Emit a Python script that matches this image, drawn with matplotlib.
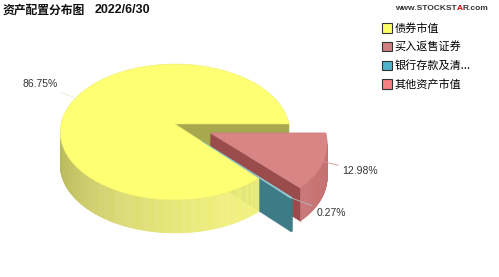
import numpy as np
import matplotlib.pyplot as plt
from matplotlib.collections import PolyCollection
from matplotlib.colors import to_rgb
from matplotlib.patches import Patch
from matplotlib.transforms import Transform

categories = ['债券市值', '买入返售证券', '银行存款及清...', '其他资产市值']
values = [86.75, 12.98, 0.27, 0.00]
explode = [0.0, 0.33, 0.33, 0.33]
top_colors = ['#FFFF73', '#D98585', '#92D4DE', '#F08080']
side_colors = ['#F6F67E', '#CC7676', '#3F7F88', '#E07070']
wall_colors = ['#A8A84E', '#9A4C4C', '#3D7C86', '#C06060']
legend_colors = ['#FFFF66', '#D08080', '#4FB3C9', '#F88080']
title = '资产配置分布图'
date_text = '2022/6/30'

W, H = 499, 277
cx, cy = 175, 124          # pie apex in pixels
sx, sy = 114, 67           # pixel size of one radius
tilt_b = 0.118             # perspective: front of pie looks bigger
depth = 33 / sy
cjk = ['Noto Sans CJK SC', 'DejaVu Sans']


class Tilt(Transform):
    input_dims = output_dims = 2

    def transform_non_affine(self, v):
        v = np.asarray(v, float)
        w = 1 + tilt_b * v[:, 1]
        return np.column_stack([v[:, 0] / w, v[:, 1] / w])


tilt = Tilt()

fig = plt.figure(figsize=(W / 100, H / 100), dpi=100)
ax = fig.add_axes([0, 0, 1, 1])

shown = [i for i, v in enumerate(values) if v > 0]
wedges, _ = ax.pie([values[i] for i in shown],
                   explode=[explode[i] for i in shown],
                   colors=[top_colors[i] for i in shown],
                   startangle=values[0] * 3.6, counterclock=False,
                   wedgeprops=dict(linewidth=0.4, zorder=4))
ax.set_aspect('auto')
ax.set_xlim(-cx / sx, (W - cx) / sx)
ax.set_ylim((cy - H) / sy, cy / sy)
ax.axis('off')


def proj(c, a, r=1.0):
    a = np.radians(a)
    return tilt.transform(np.array([[c[0] + r * np.cos(a), c[1] + r * np.sin(a)]]))[0]


def down(p):
    return (p[0], p[1] - depth)


def shade(col, f):
    return tuple(min(1, x * f) for x in to_rgb(col))


# side walls of the 3d pie
for n, (i, w) in enumerate(zip(shown, wedges)):
    w.set_transform(tilt + ax.transData)
    w.set_edgecolor(shade(top_colors[i], 0.93))
    c, r, t1, t2 = w.center, w.r, w.theta1, w.theta2
    pc = proj(c, 0, 0)
    walls = []
    for t, sgn in ((t1, 1), (t2, -1)):
        pr = proj(c, t, r)
        if sgn * (pr[0] - pc[0]) > 0:
            walls.append([pc, pr, down(pr), down(pc)])
    quads, cols = [], []
    angs = np.linspace(t1, t2, max(2, int((t2 - t1) / 0.5) + 1))
    for a0, a1 in zip(angs[:-1], angs[1:]):
        p0, p1 = proj(c, a0, r), proj(c, a1, r)
        if p1[0] > p0[0]:
            m = (a0 + a1) / 2
            quads.append([p0, p1, down(p1), down(p0)])
            cols.append(shade(side_colors[i], 0.83 + 0.15 * np.cos(np.radians(m - 315))))
    if explode[i] > 0:
        zw = za = 2 + 0.1 * n
    else:
        zw, za = 1, 3
    if walls:
        ax.add_collection(PolyCollection(walls, facecolors=wall_colors[i],
                                         edgecolors=wall_colors[i], linewidths=0.3, zorder=zw))
    if quads:
        ax.add_collection(PolyCollection(quads, facecolors=cols, edgecolors=cols,
                                         linewidths=0.3, zorder=za))

# percentage labels
label_offsets = [(-18, 14), (19, -9), (25, -15)]
leader_colors = ['#EEEED0', '#D89090', '#B8B8B8']
for n, (i, w) in enumerate(zip(shown, wedges)):
    m = (w.theta1 + w.theta2) / 2
    dx, dy = label_offsets[n]
    ax.annotate(f'{values[i]:.2f}%', xy=proj(w.center, m, w.r), xytext=(dx, dy),
                textcoords='offset pixels', ha='right' if dx < 0 else 'left',
                va='center', fontsize=7.5, color='#333333', family='Liberation Sans',
                arrowprops=dict(arrowstyle='-', color=leader_colors[n], lw=0.6,
                                shrinkA=1, shrinkB=0), zorder=6)

# title
fig.text(3 / W, 1 - 10 / H, title, fontsize=8.5, fontweight='bold', family=cjk,
         va='center', color='#111111')
fig.text(95 / W, 1 - 10 / H, date_text, fontsize=9, fontweight='bold',
         family='Liberation Sans', va='center', color='#111111')

# watermark
wm = fig.text(395 / W, 1 - 8 / H, 'www.STOCKST', fontsize=6, fontweight='bold',
              family='Liberation Sans', va='center', color='#333333')
wa = ax.annotate('A', xy=(1, 0), xycoords=wm, va='bottom', ha='left', fontsize=6,
                 fontweight='bold', family='Liberation Sans', color='#CC0000')
ax.annotate('R.com', xy=(1, 0), xycoords=wa, va='bottom', ha='left', fontsize=6,
            fontweight='bold', family='Liberation Sans', color='#333333')

# legend
handles = [Patch(facecolor=col, edgecolor='#333333', linewidth=0.8) for col in legend_colors]
fig.legend(handles, categories, loc='upper left', bbox_to_anchor=(382 / W, 1 - 23 / H),
           frameon=False, prop={'family': cjk, 'size': 8}, handlelength=0.9,
           handleheight=0.9, handletextpad=0.25, labelspacing=0.7,
           borderpad=0, borderaxespad=0)

fig.savefig('out.png', dpi=100)
